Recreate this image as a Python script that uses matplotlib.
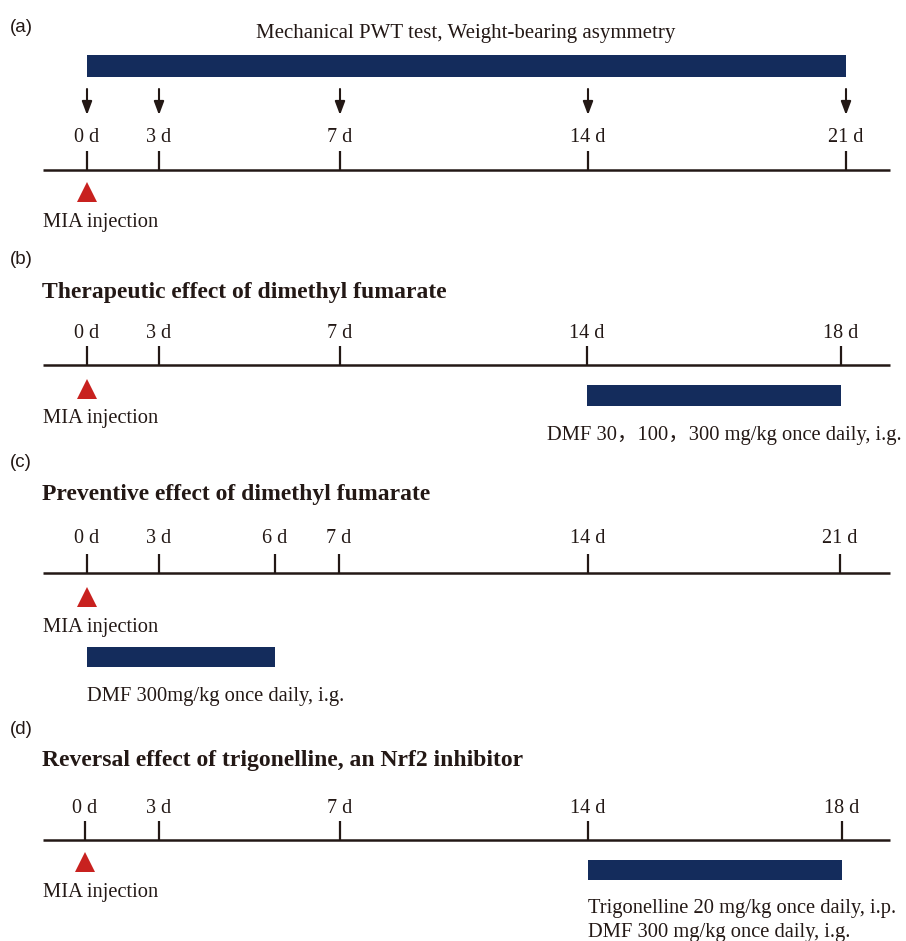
import matplotlib.pyplot as plt
import numpy as np

# ---- data ----
panel_tags = ["(a)", "(b)", "(c)", "(d)"]
panel_titles = [
    "Mechanical PWT test, Weight-bearing asymmetry",
    "Therapeutic effect of dimethyl fumarate",
    "Preventive effect of dimethyl fumarate",
    "Reversal effect of trigonelline, an Nrf2 inhibitor",
]
timeline_days = [
    [0, 3, 7, 14, 21],
    [0, 3, 7, 14, 18],
    [0, 3, 6, 7, 14, 21],
    [0, 3, 7, 14, 18],
]
test_days = [0, 3, 7, 14, 21]          # arrows in panel (a)
injection_day = 0
treatment_spans = [(0, 21), (14, 18), (0, 6), (14, 18)]
treatment_labels = [
    [],
    ["DMF 30\uff0c100\uff0c300 mg/kg once daily, i.g."],
    ["DMF 300mg/kg once daily, i.g."],
    ["Trigonelline 20 mg/kg once daily, i.p.", "DMF 300 mg/kg once daily, i.g."],
]

# ---- layout (pixels) ----
W, H = 906, 941
# tick positions on the drawn timeline are not proportional to days
tick_px = [
    [87, 159, 340, 588, 846],
    [87, 159, 340, 587, 841],
    [87, 159, 275, 339, 588, 840],
    [85, 159, 340, 588, 842],
]
panel_bounds = [(0, 245), (245, 450), (450, 715), (715, 941)]
line_y = [170, 365, 573, 840]
tick_len = 19
label_base = [142, 338, 543, 813]
tri_y = [192, 389, 597, 862]
mia_base = [227, 423, 632, 897]
tag_y = [28, 260, 463, 730]
title_base = [38, 298, 500, 766]
bar_y = [(55, 77), (385, 406), (647, 667), (860, 880)]
text_pos = [None, ("axes", 547, 440), ("day", 0, 701), ("day", 14, 913)]
line_step = 24

NAVY = "#142c5c"
RED = "#c8211f"
INK = "#231815"
SERIF = ["Liberation Serif", "Noto Sans CJK SC"]
BODY = 14.8

fig = plt.figure(figsize=(W / 100, H / 100), dpi=100)


def make_scale(days, px):
    days = np.asarray(days, float)
    px = np.asarray(px, float)
    sl = (px[1] - px[0]) / (days[1] - days[0])
    sr = (px[-1] - px[-2]) / (days[-1] - days[-2])
    d_ext = np.r_[days[0] - 200, days, days[-1] + 200]
    p_ext = np.r_[px[0] - 200 * sl, px, px[-1] + 200 * sr]
    fwd = lambda d: np.interp(d, d_ext, p_ext)
    inv = lambda p: np.interp(p, p_ext, d_ext)
    return fwd, inv


for i in range(4):
    top, bot = panel_bounds[i]
    ax = fig.add_axes([0, 1 - bot / H, 1, (bot - top) / H])
    fwd, inv = make_scale(timeline_days[i], tick_px[i])
    ax.set_xscale("function", functions=(fwd, inv))
    ax.set_xlim(inv(0), inv(W))
    ax.set_ylim(bot, top)
    ax.axis("off")
    yt = ax.get_yaxis_transform()

    # panel tag and title
    ax.text(10 / W, tag_y[i], panel_tags[i], transform=yt, ha="left", va="center",
            fontsize=13.5, family="Liberation Sans", color=INK)
    if i == 0:
        ax.text(466 / W, title_base[i], panel_titles[i], transform=yt, ha="center",
                va="baseline", fontsize=15, family=SERIF, color=INK)
    else:
        ax.text(42 / W, title_base[i], panel_titles[i], transform=yt, ha="left",
                va="baseline", fontsize=17, family=SERIF, weight="bold", color=INK)

    # timeline
    ax.axhline(line_y[i], xmin=43 / W, xmax=890 / W, color=INK, lw=1.8,
               solid_capstyle="butt")
    days = timeline_days[i]
    ax.vlines(days, line_y[i] - tick_len, line_y[i], color=INK, lw=1.6)
    for d in days:
        ax.text(d, label_base[i], f"{d} d", ha="center", va="baseline",
                fontsize=14.5, family=SERIF, color=INK)

    # MIA injection
    ax.plot([injection_day], [tri_y[i]], marker="^", ms=15, color=RED, mec=RED, mew=0)
    ax.text(43 / W, mia_base[i], "MIA injection", transform=yt, ha="left",
            va="baseline", fontsize=BODY, family=SERIF, color=INK)

    # treatment / test bar
    s, e = treatment_spans[i]
    y0, y1 = bar_y[i]
    ax.barh((y0 + y1) / 2, e - s, left=s, height=y1 - y0, color=NAVY, edgecolor="none")

    if text_pos[i]:
        kind, x, yb = text_pos[i]
        for k, line in enumerate(treatment_labels[i]):
            kw = dict(ha="left", va="baseline", fontsize=BODY, family=SERIF, color=INK)
            if kind == "axes":
                ax.text(x / W, yb + k * line_step, line, transform=yt, **kw)
            else:
                ax.text(x, yb + k * line_step, line, **kw)

    if i == 0:
        for d in test_days:
            ax.annotate("", xy=(d, 115), xytext=(d, 89),
                        arrowprops=dict(arrowstyle="-|>,head_length=0.8,head_width=0.3",
                                        lw=1.5, color=INK, shrinkA=0, shrinkB=0))

fig.savefig("out.png", dpi=100)
